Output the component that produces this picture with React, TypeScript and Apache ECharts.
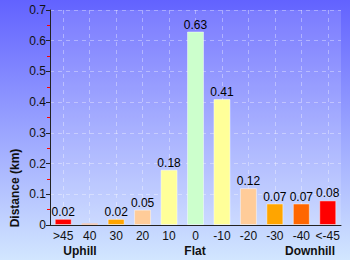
import React, { useEffect, useRef } from "react";
import * as echarts from "echarts";

const categories = [">45", "40", "30", "20", "10", "0", "-10", "-20", "-30", "-40", "<-45"];
const values = [0.02, 0.006, 0.02, 0.05, 0.18, 0.63, 0.41, 0.12, 0.07, 0.07, 0.08];
const barColors = ["#ff0000", "#ff6600", "#ffa500", "#ffcc99", "#ffff99", "#ccffcc", "#ffff99", "#ffcc99", "#ffa500", "#ff6600", "#ff0000"];
const groupLabels = ["Uphill", "Flat", "Downhill"];
const groupX = [80, 195, 310];
const yTicks = [0, 0.1, 0.2, 0.3, 0.4, 0.5, 0.6, 0.7];

export default function App() {
  const ref = useRef<HTMLDivElement>(null);
  useEffect(() => {
    const chart = echarts.init(ref.current!, null, { renderer: "svg" });
    const font = "Liberation Sans";
    chart.setOption({
      animation: false,
      backgroundColor: new echarts.graphic.LinearGradient(0, 0, 0, 1, [
        { offset: 0, color: "#6262ff" },
        { offset: 1, color: "#d2e6ff" },
      ]),
      textStyle: { fontFamily: font },
      grid: {
        left: 50, right: 9, top: 10, bottom: 35,
        show: true, backgroundColor: "rgba(255,255,255,0.14)", borderWidth: 0,
      },
      xAxis: {
        type: "category",
        data: categories,
        axisLine: { lineStyle: { color: "#222", width: 1 } },
        axisTick: { show: false },
        axisLabel: { color: "#111", fontSize: 12, margin: 5, interval: 0, fontFamily: font },
        splitLine: { show: true, alignWithLabel: true, interval: 0, lineStyle: { color: "rgba(255,255,255,0.35)", type: [4, 4] } },
      },
      yAxis: {
        type: "value",
        min: 0,
        max: yTicks[yTicks.length - 1],
        interval: 0.1,
        axisLine: { show: true, lineStyle: { color: "#222", width: 1 } },
        axisTick: { show: true, length: 4, lineStyle: { color: "#222" } },
        minorTick: { show: true, splitNumber: 2, length: 3, lineStyle: { color: "#ff0000", width: 1 } },
        axisLabel: { color: "#111", fontSize: 12, margin: 4, fontFamily: font, formatter: (v: number) => (v === 0 ? "0" : String(Math.round(v * 10) / 10)) },
        splitLine: { show: true, lineStyle: { color: "rgba(255,255,255,0.35)", type: [4, 4] } },
      },
      series: [
        {
          type: "bar",
          barWidth: 17,
          data: values.map((v, i) => ({
            value: v,
            itemStyle: { color: barColors[i], borderColor: "rgba(255,255,255,0.45)", borderWidth: 1 },
            label: { show: v >= 0.01 },
          })),
          label: {
            show: true,
            position: "top",
            distance: 1,
            color: "#000",
            fontSize: 12,
            fontFamily: font,
            formatter: (p: any) => p.value.toFixed(2),
          },
        },
      ],
      graphic: [
        {
          type: "text",
          x: 15,
          y: 188,
          rotation: Math.PI / 2,
          style: { text: "Distance (km)", fontSize: 12, fontWeight: "bold", fontFamily: font, fill: "#111", align: "center", verticalAlign: "middle" },
        },
        ...groupLabels.map((t, i) => ({
          type: "text",
          x: groupX[i],
          y: 251,
          style: { text: t, fontSize: 12, fontWeight: "bold", fontFamily: font, fill: "#111", align: "center", verticalAlign: "middle" },
        })),
      ],
    });
    return () => chart.dispose();
  }, []);
  return <div ref={ref} style={{ width: 350, height: 260, position: "absolute", left: 0, top: 0 }} />;
}
